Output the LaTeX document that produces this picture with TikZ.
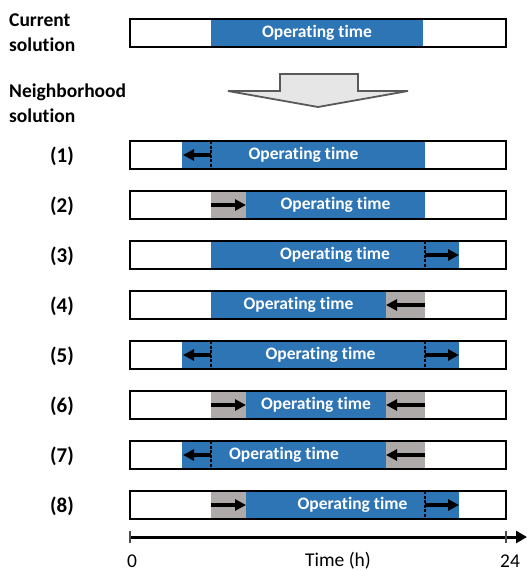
\documentclass[tikz,border=0pt]{standalone}
\usepackage{fontspec}
\setmainfont{Carlito}[Ligatures={NoCommon}]
\usetikzlibrary{arrows.meta}
\definecolor{opblue}{HTML}{2E75B6}
\definecolor{idlegrey}{HTML}{AEAAAA}
\definecolor{bigarrowfill}{HTML}{E7E6E6}
\definecolor{bigarrowline}{HTML}{595959}
% horizontal positions on the 0--24 h scale
\def\xA{130}\def\xB{182}\def\xC{211}\def\xD{246}
\def\xE{386}\def\xF{425}\def\xG{459}\def\xH{506}
% white background of a schedule bar, centred at height #2
\newcommand\barbg[2]{\node[barfill] (#1) at ({(\xA+\xH)/2},#2) {};}
% coloured stretch from #2 to #3 in the bar at height #4
\newcommand\seg[4]{\fill[#1] (#2,#4-14) rectangle (#3,#4+14);}
\newcommand\barframe[1]{\draw[barline] (#1.north west) rectangle (#1.south east);}
\newcommand\oldedge[2]{\draw[oldedgeline] (#1,#2-14) -- (#1,#2+14);}
\newcommand\shiftarr[4]{\coordinate (#1s) at (#2,#4);\coordinate (#1e) at (#3,#4);
  \draw[shiftarrow] (#1s) -- (#1e);}
\begin{document}
\begin{tikzpicture}[x=1pt,y=-1pt,
  barfill/.style={fill=white, draw=none, minimum width=376pt, minimum height=28pt,
    inner sep=0pt, outer sep=0pt},
  barline/.style={draw=black, line width=1.8pt},
  optext/.style={text=white, font=\fontsize{17.5}{20}\selectfont\bfseries, inner sep=0pt},
  rowlabel/.style={font=\fontsize{21}{24}\selectfont\bfseries, inner sep=0pt},
  sidelabel/.style={font=\fontsize{19.5}{25}\selectfont\bfseries, align=left,
    anchor=west, inner sep=0pt},
  axislabel/.style={font=\fontsize{19.5}{22}\selectfont, inner sep=0pt},
  shiftarrow/.style={line width=3.2pt, -{Triangle[length=11pt,width=11pt]}},
  oldedgeline/.style={line width=1.2pt, dash pattern=on 3pt off 1.5pt},
  tick/.style={draw=black!70, line width=1.1pt},
]
\useasboundingbox (0,0) rectangle (527,571);

% current solution
\node[sidelabel] (cur) at (9,33) {Current\\solution};
\barbg{r0}{33}
\fill[opblue] (\xC,19) rectangle (423,47);
\barframe{r0}
\node[optext] (ot0) at ({(\xC+423)/2},33) {Operating time};

% transition arrow
\node[sidelabel] (nbh) at (9,103) {Neighborhood\\solution};
\filldraw[fill=bigarrowfill, draw=bigarrowline, line width=1.8pt, line join=miter]
  (280,74) -- (358,74) -- (358,91) -- (408,91) -- (318,107) -- (228,91) -- (280,91) -- cycle;

% (1) start earlier
\node[rowlabel] (l1) at (62,156) {(1)};
\barbg{r1}{155}
\seg{opblue}{\xB}{\xF}{155}
\oldedge{\xC}{155}
\shiftarr{a1}{\xC}{\xB+1}{155}
\barframe{r1}
\node[optext] (ot1) at ({(\xB+\xF)/2},155) {Operating time};

% (2) start later
\node[rowlabel] (l2) at (62,206) {(2)};
\barbg{r2}{205}
\seg{idlegrey}{\xC}{\xD}{205}
\seg{opblue}{\xD}{\xF}{205}
\shiftarr{a2}{\xC}{\xD}{205}
\barframe{r2}
\node[optext] (ot2) at ({(\xD+\xF)/2},205) {Operating time};

% (3) end later
\node[rowlabel] (l3) at (62,256) {(3)};
\barbg{r3}{255}
\seg{opblue}{\xC}{\xG}{255}
\oldedge{\xF}{255}
\shiftarr{a3}{\xF}{\xG}{255}
\barframe{r3}
\node[optext] (ot3) at ({(\xC+\xG)/2},255) {Operating time};

% (4) end earlier
\node[rowlabel] (l4) at (62,306) {(4)};
\barbg{r4}{305}
\seg{opblue}{\xC}{\xE}{305}
\seg{idlegrey}{\xE}{\xF}{305}
\shiftarr{a4}{\xF}{\xE}{305}
\barframe{r4}
\node[optext] (ot4) at ({(\xC+\xE)/2},305) {Operating time};

% (5) start earlier, end later
\node[rowlabel] (l5) at (62,356) {(5)};
\barbg{r5}{355}
\seg{opblue}{\xB}{\xG}{355}
\oldedge{\xC}{355}
\oldedge{\xF}{355}
\shiftarr{a5}{\xC}{\xB+1}{355}
\shiftarr{b5}{\xF}{\xG}{355}
\barframe{r5}
\node[optext] (ot5) at ({(\xB+\xG)/2},355) {Operating time};

% (6) start later, end earlier
\node[rowlabel] (l6) at (62,406) {(6)};
\barbg{r6}{405}
\seg{idlegrey}{\xC}{\xD}{405}
\seg{opblue}{\xD}{\xE}{405}
\seg{idlegrey}{\xE}{\xF}{405}
\shiftarr{a6}{\xC}{\xD}{405}
\shiftarr{b6}{\xF}{\xE}{405}
\barframe{r6}
\node[optext] (ot6) at ({(\xD+\xE)/2},405) {Operating time};

% (7) start earlier, end earlier
\node[rowlabel] (l7) at (62,456) {(7)};
\barbg{r7}{455}
\seg{opblue}{\xB}{\xE}{455}
\seg{idlegrey}{\xE}{\xF}{455}
\oldedge{\xC}{455}
\shiftarr{a7}{\xC}{\xB+1}{455}
\shiftarr{b7}{\xF}{\xE}{455}
\barframe{r7}
\node[optext] (ot7) at ({(\xB+\xE)/2},455) {Operating time};

% (8) start later, end later
\node[rowlabel] (l8) at (62,506) {(8)};
\barbg{r8}{505}
\seg{idlegrey}{\xC}{\xD}{505}
\seg{opblue}{\xD}{\xG}{505}
\oldedge{\xF}{505}
\shiftarr{a8}{\xC}{\xD}{505}
\shiftarr{b8}{\xF}{\xG}{505}
\barframe{r8}
\node[optext] (ot8) at ({(\xD+\xG)/2},505) {Operating time};

% time axis
\coordinate (t0) at (\xA,537);
\coordinate (tend) at (527,537);
\draw[line width=3pt, -{Triangle[length=11pt,width=12pt]}] (t0) -- (tend);
\draw[tick] (\xA,531) -- (\xA,543);
\draw[tick] (\xH,531) -- (\xH,543);
\node[axislabel] (zero) at (132,561) {0};
\node[axislabel] (tlabel) at (338,561) {Time (h)};
\node[axislabel] (full) at (510,561) {24};
\end{tikzpicture}
\end{document}
